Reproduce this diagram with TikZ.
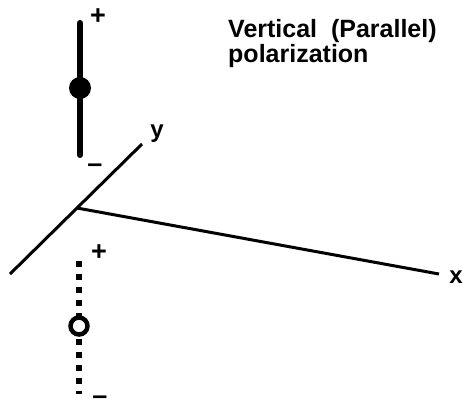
\documentclass[tikz,border=0pt]{standalone}
\usepackage{fontspec}
\setmainfont{Liberation Sans}
\begin{document}
\begin{tikzpicture}[x=1pt,y=-1pt,
  axis/.style={line width=3pt},
  sign/.style={font=\fontsize{27}{27}\bfseries\selectfont, inner sep=0pt},
  lbl/.style={font=\fontsize{24}{24}\bfseries\selectfont, inner sep=0pt},
  solidbar/.style={line width=6pt, line cap=round},
  dashbar/.style={line width=5.5pt, dash pattern=on 6pt off 7pt}]
\useasboundingbox (0,0) rectangle (463,405);
% axes
\coordinate (o) at (77,208);
\coordinate (yend) at (142,144);
\coordinate (ystart) at (10,274);
\coordinate (xend) at (439,274);
\draw[axis] (ystart) -- (yend);
\draw[axis] (o) -- (xend);
\node[lbl] (ylab) at (157,134) {y};
\node[lbl] (xlab) at (456,277) {x};
% top solid dipole
\coordinate (t1) at (80,23);
\coordinate (t2) at (80,155);
\draw[solidbar] (t1) -- (t2);
\fill (80,88) circle (11);
\node[sign] (tp) at (98,17) {+};
\node[sign] (tm) at (95,168) {–};
% bottom dashed dipole
\coordinate (b1) at (79,261);
\coordinate (b2) at (79,394);
\draw[dashbar] (b1) -- (b2);
\draw[line width=4.5pt, fill=white] (79,326) circle (8.5);
\node[sign] (bp) at (99,253) {+};
\node[sign, text height=0.3em, text depth=0pt, anchor=south] (bm) at (100,403) {\raisebox{-0.06em}{–}};
% text
\node[anchor=base west, inner sep=0pt, align=left,
  font=\fontsize{25}{25}\bfseries\selectfont] (title) at (228,62)
  {Vertical\ \ (Parallel)\\polarization};
\end{tikzpicture}
\end{document}
